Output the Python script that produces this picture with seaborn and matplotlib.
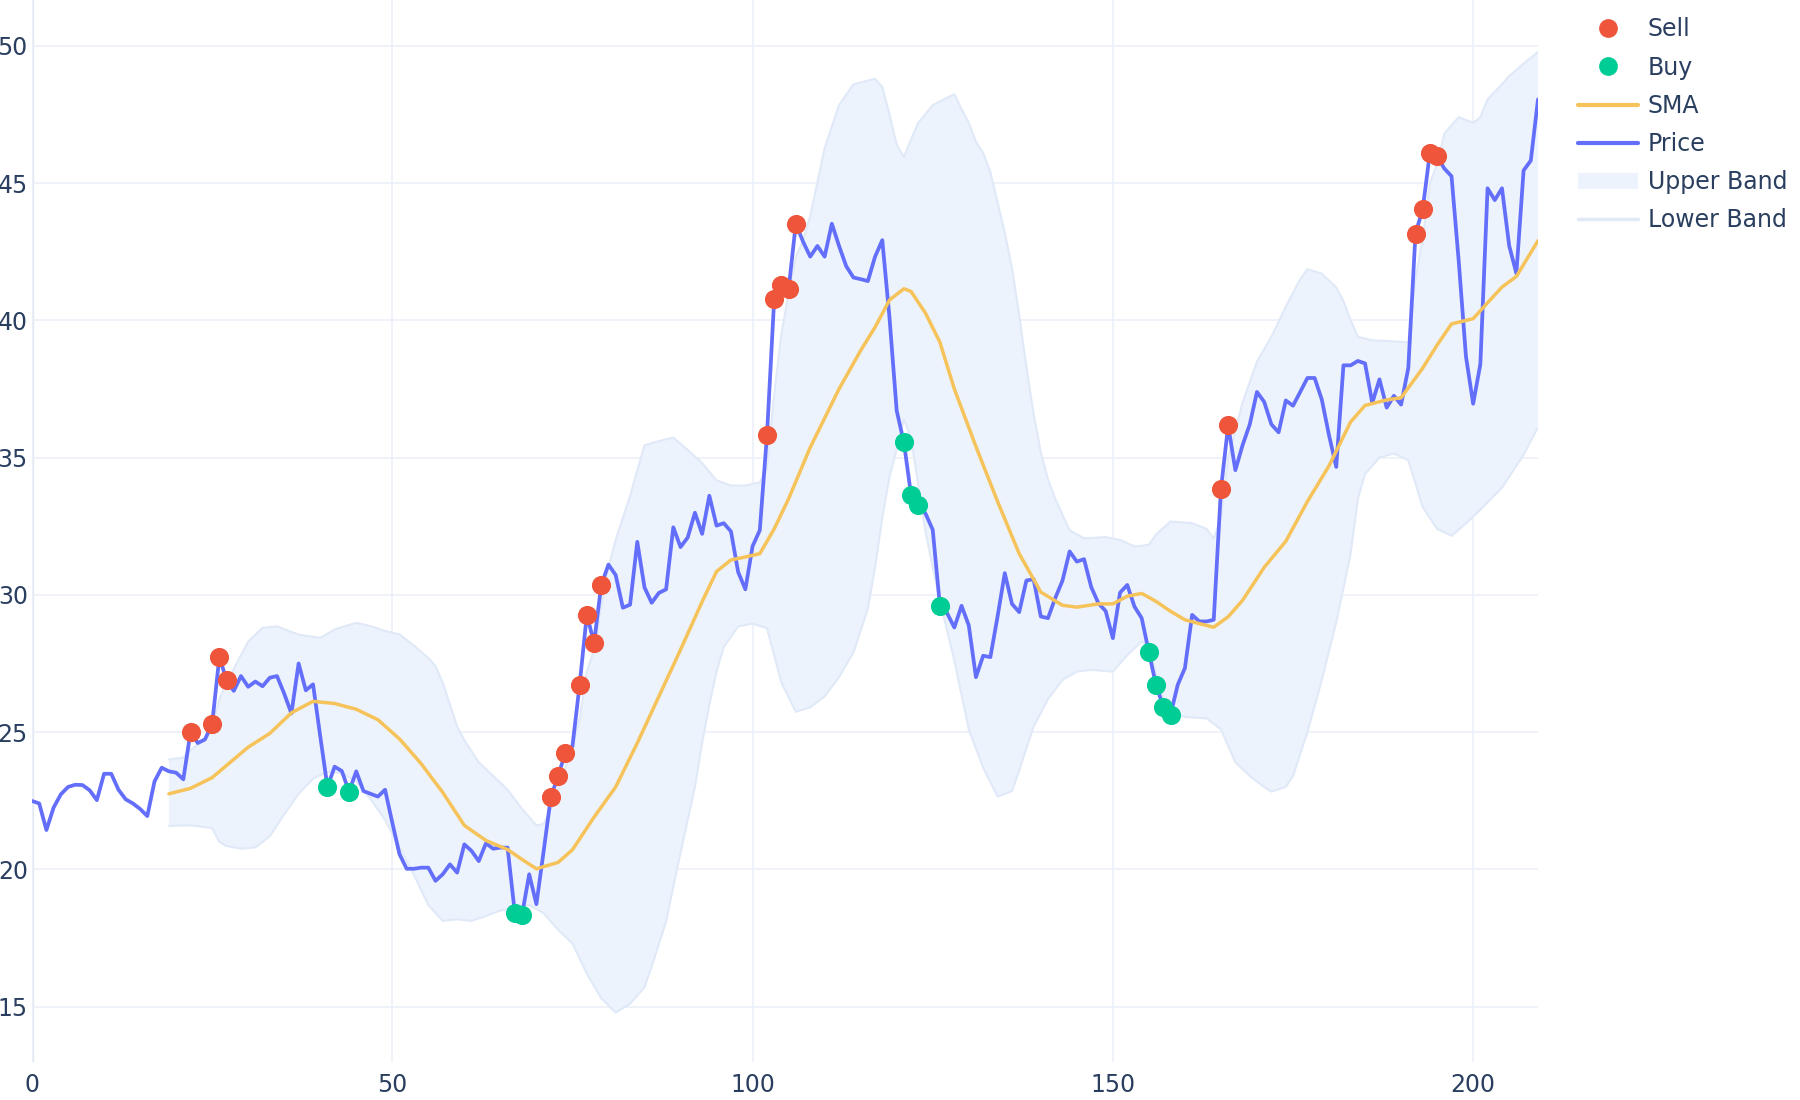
import numpy as np
import pandas as pd
import matplotlib
matplotlib.use("Agg")
import matplotlib.pyplot as plt
from matplotlib.lines import Line2D
from matplotlib.patches import Patch
import seaborn as sns

# price, one value per index 0..209
price = [
    22.49, 22.40, 21.43, 22.25, 22.73, 23.00, 23.08, 23.07, 22.88, 22.52,
    23.48, 23.48, 22.90, 22.55, 22.40, 22.20, 21.94, 23.20, 23.70, 23.57,
    23.52, 23.28, 25.00, 24.60, 24.73, 25.30, 27.73, 26.90, 26.50, 27.04,
    26.65, 26.84, 26.67, 26.98, 27.04, 26.40, 25.68, 27.50, 26.52, 26.74,
    24.85, 23.00, 23.74, 23.58, 22.83, 23.57, 22.85, 22.75, 22.65, 22.90,
    21.70, 20.55, 20.02, 20.02, 20.06, 20.06, 19.58, 19.82, 20.18, 19.88,
    20.91, 20.67, 20.30, 20.95, 20.75, 20.79, 20.79, 18.42, 18.33, 19.82,
    18.73, 20.65, 22.62, 23.40, 24.22, 24.48, 26.73, 29.28, 28.24, 30.36,
    31.10, 30.72, 29.53, 29.64, 31.93, 30.27, 29.71, 30.07, 30.20, 32.46,
    31.74, 32.09, 32.99, 32.22, 33.61, 32.52, 32.61, 32.31, 30.83, 30.20,
    31.77, 32.35, 35.82, 40.77, 41.29, 41.13, 43.52, 42.87, 42.32, 42.71,
    42.32, 43.52, 42.71, 41.97, 41.56, 41.50, 41.43, 42.32, 42.92, 40.10,
    36.71, 35.55, 33.63, 33.27, 32.96, 32.37, 29.60, 29.33, 28.81, 29.60,
    28.89, 27.00, 27.78, 27.73, 29.21, 30.79, 29.67, 29.37, 30.52, 30.57,
    29.21, 29.15, 29.88, 30.51, 31.58, 31.21, 31.30, 30.28, 29.69, 29.41,
    28.42, 30.08, 30.36, 29.57, 29.15, 27.91, 26.70, 25.93, 25.63, 26.72,
    27.33, 29.27, 29.03, 29.03, 29.09, 33.85, 36.17, 34.54, 35.45, 36.21,
    37.39, 37.03, 36.21, 35.92, 37.08, 36.89, 37.39, 37.90, 37.90, 37.11,
    35.81, 34.66, 38.36, 38.36, 38.52, 38.43, 36.99, 37.85, 36.82, 37.25,
    36.93, 38.26, 43.16, 44.05, 46.11, 45.97, 45.53, 45.25, 42.15, 38.69,
    36.96, 38.40, 44.81, 44.38, 44.81, 42.72, 41.71, 45.46, 45.82, 48.05,
]

sma_x = [19, 22, 25, 30, 33, 36, 39, 42, 45, 48, 51, 54, 57, 60, 63, 66, 68, 70,
         73, 75, 78, 81, 84, 87, 90, 93, 95, 97, 99, 101, 103, 105, 108, 112, 115,
         117, 119, 121, 122, 124, 126, 128, 131, 134, 137, 140, 143, 145, 148, 150,
         152, 154, 156, 158, 160, 162, 164, 166, 168, 171, 174, 177, 180, 183, 185,
         188, 190, 193, 195, 197, 200, 202, 204, 206, 209]
sma_y = [22.75, 22.95, 23.34, 24.45, 24.95, 25.70, 26.12, 26.04, 25.83, 25.45,
         24.75, 23.85, 22.80, 21.60, 21.05, 20.72, 20.36, 20.02, 20.25, 20.71,
         21.90, 23.00, 24.60, 26.30, 28.00, 29.75, 30.85, 31.27, 31.38, 31.50,
         32.40, 33.50, 35.37, 37.50, 38.90, 39.75, 40.74, 41.15, 41.05, 40.26,
         39.20, 37.50, 35.40, 33.40, 31.50, 30.10, 29.62, 29.55, 29.67, 29.67,
         29.95, 30.05, 29.76, 29.40, 29.09, 28.95, 28.82, 29.20, 29.80, 31.00,
         31.95, 33.40, 34.70, 36.30, 36.90, 37.10, 37.18, 38.26, 39.10, 39.87,
         40.06, 40.64, 41.21, 41.60, 42.90]

upper_x = [19, 21, 22, 24, 25, 26, 27, 28, 30, 32, 34, 37, 40, 42, 45, 47, 49, 51,
           53, 55, 56, 57, 58, 59, 60, 62, 64, 66, 68, 70, 71, 72, 73, 74, 75, 76,
           77, 78, 79, 80, 81, 83, 85, 87, 89, 91, 93, 95, 97, 99, 101, 102, 103,
           104, 105, 106, 107, 108, 110, 112, 114, 117, 118, 119, 120, 121, 122,
           123, 125, 128, 129, 130, 131, 132, 133, 135, 136, 137, 138, 139, 140,
           141, 142, 144, 146, 149, 151, 153, 155, 156, 158, 161, 163, 164, 165,
           166, 168, 170, 172, 174, 176, 177, 179, 181, 182, 183, 184, 186, 188,
           191, 192, 193, 194, 195, 196, 198, 200, 201, 202, 204, 205, 207, 209]
upper_y = [24.00, 24.07, 24.35, 24.75, 25.20, 26.20, 26.80, 27.30, 28.30, 28.80,
           28.85, 28.55, 28.43, 28.74, 28.98, 28.86, 28.68, 28.56, 28.15, 27.70,
           27.40, 26.80, 26.00, 25.20, 24.70, 23.90, 23.40, 22.90, 22.20, 21.60,
           21.65, 22.20, 22.90, 23.70, 24.40, 25.50, 27.20, 28.00, 29.60, 31.00,
           32.00, 33.60, 35.45, 35.60, 35.73, 35.28, 34.80, 34.17, 33.98, 33.98,
           34.10, 34.60, 37.30, 39.50, 41.00, 42.30, 42.90, 43.80, 46.27, 47.84,
           48.60, 48.80, 48.50, 47.50, 46.40, 45.95, 46.60, 47.20, 47.84, 48.24,
           47.70, 47.20, 46.50, 46.10, 45.40, 43.20, 41.90, 40.20, 38.30, 36.60,
           35.20, 34.20, 33.50, 32.35, 32.06, 32.10, 32.00, 31.76, 31.82, 32.20,
           32.67, 32.61, 32.40, 32.06, 32.80, 35.00, 37.00, 38.50, 39.40, 40.50,
           41.50, 41.86, 41.70, 41.20, 40.70, 40.00, 39.40, 39.27, 39.25, 39.20,
           41.50, 43.00, 45.00, 45.70, 46.80, 47.40, 47.20, 47.40, 48.05, 48.60,
           48.90, 49.35, 49.78]

lower_x = [19, 22, 25, 26, 27, 29, 31, 33, 35, 37, 39, 41, 43, 45, 47, 49, 51, 53,
           55, 57, 59, 61, 63, 65, 67, 69, 71, 73, 75, 77, 79, 81, 83, 85, 86, 88,
           89, 90, 91, 92, 93, 94, 95, 96, 98, 100, 102, 103, 104, 106, 108, 110,
           112, 114, 116, 117, 118, 119, 120, 121, 122, 123, 124, 125, 126, 128,
           130, 132, 134, 136, 137, 139, 141, 143, 145, 147, 150, 152, 154, 155,
           156, 157, 158, 160, 163, 165, 167, 169, 171, 172, 174, 175, 177, 179,
           181, 183, 184, 185, 187, 189, 191, 193, 195, 197, 199, 201, 204, 207, 209]
lower_y = [21.58, 21.60, 21.50, 21.00, 20.85, 20.75, 20.80, 21.20, 22.00, 22.75,
           23.30, 23.55, 23.50, 23.20, 22.55, 21.80, 20.80, 19.80, 18.70, 18.12,
           18.18, 18.12, 18.30, 18.50, 18.60, 18.70, 18.40, 17.80, 17.30, 16.20,
           15.30, 14.78, 15.10, 15.70, 16.46, 18.10, 19.37, 20.60, 21.80, 23.00,
           24.60, 26.00, 27.20, 28.10, 28.85, 28.95, 28.78, 27.80, 26.80, 25.74,
           25.90, 26.30, 27.00, 27.90, 29.50, 31.00, 32.80, 34.30, 35.30, 36.40,
           35.70, 34.00, 32.30, 31.00, 29.80, 27.60, 25.10, 23.70, 22.65, 22.85,
           23.60, 25.20, 26.20, 26.90, 27.20, 27.27, 27.20, 27.80, 28.30, 28.10,
           27.10, 26.20, 25.70, 25.55, 25.50, 25.10, 23.90, 23.40, 23.00, 22.83,
           23.00, 23.40, 25.00, 26.90, 29.00, 31.50, 33.50, 34.40, 35.00, 35.15,
           34.90, 33.20, 32.40, 32.15, 32.60, 33.10, 33.90, 35.10, 36.10]

sell_idx = [22, 25, 26, 27, 72, 73, 74, 76, 77, 78, 79, 102, 103, 104, 105, 106,
            165, 166, 192, 193, 194, 195]
buy_idx = [41, 44, 67, 68, 121, 122, 123, 126, 155, 156, 157, 158]

x_ticks = [0, 50, 100, 150, 200]
y_ticks = [15, 20, 25, 30, 35, 40, 45, 50]

PRICE_COLOR = "#636EFA"
SMA_COLOR = "#F6C35A"
SELL_COLOR = "#EF553B"
BUY_COLOR = "#00CC96"
BAND_FILL = "#EDF3FC"
BAND_LINE = "#E0E9F8"
GRID_COLOR = "#EBF0F8"
TEXT_COLOR = "#2A3F5F"
FONT_SIZE = 17

sns.set_theme(style="white")
plt.rcParams["font.family"] = ["DejaVu Sans"]

price_df = pd.DataFrame({"idx": np.arange(len(price)), "price": price})
sma_df = pd.DataFrame({"idx": sma_x, "sma": sma_y})
upper_df = pd.DataFrame({"idx": upper_x, "band": upper_y})
lower_df = pd.DataFrame({"idx": lower_x, "band": lower_y})
sell_df = price_df.iloc[sell_idx]
buy_df = price_df.iloc[buy_idx]

fig = plt.figure(figsize=(18, 11), dpi=100)
ax = fig.add_axes([32 / 1800, 38 / 1100, (1538 - 32) / 1800, 1 - 38 / 1100])

# band area between upper and lower
poly_x = np.r_[upper_df["idx"].to_numpy(), lower_df["idx"].to_numpy()[::-1]]
poly_y = np.r_[upper_df["band"].to_numpy(), lower_df["band"].to_numpy()[::-1]]
ax.fill(poly_x, poly_y, color=BAND_FILL, lw=0, zorder=1)

sns.lineplot(data=upper_df, x="idx", y="band", ax=ax, color=BAND_LINE,
             linewidth=1.5, sort=False, legend=False, zorder=2)
sns.lineplot(data=lower_df, x="idx", y="band", ax=ax, color=BAND_LINE,
             linewidth=1.5, sort=False, legend=False, zorder=2)
sns.lineplot(data=price_df, x="idx", y="price", ax=ax, color=PRICE_COLOR,
             linewidth=2.7, sort=False, legend=False, zorder=3)
sns.lineplot(data=sma_df, x="idx", y="sma", ax=ax, color=SMA_COLOR,
             linewidth=2.5, sort=False, legend=False, zorder=4)
sns.scatterplot(data=buy_df, x="idx", y="price", ax=ax, color=BUY_COLOR,
                s=190, linewidth=0, legend=False, zorder=5)
sns.scatterplot(data=sell_df, x="idx", y="price", ax=ax, color=SELL_COLOR,
                s=190, linewidth=0, legend=False, zorder=6)

ax.set_xlim(0, 209)
ax.set_ylim(12.98, 51.67)
ax.set_xticks(x_ticks)
ax.set_yticks(y_ticks)
ax.set_xlabel("")
ax.set_ylabel("")
ax.grid(True, color=GRID_COLOR, linewidth=1.1, zorder=0)
ax.set_axisbelow(True)
ax.axvline(0, color="#E4EAF4", linewidth=2.5, zorder=0.5)
for side in ["top", "right", "bottom", "left"]:
    ax.spines[side].set_visible(False)
ax.tick_params(axis="y", length=0, pad=3, labelsize=FONT_SIZE, labelcolor=TEXT_COLOR)
ax.tick_params(axis="x", length=0, pad=8, labelsize=FONT_SIZE, labelcolor=TEXT_COLOR)

handles = [
    Line2D([0], [0], marker="o", ls="", markersize=13.5, markeredgewidth=0, color=SELL_COLOR),
    Line2D([0], [0], marker="o", ls="", markersize=13.5, markeredgewidth=0, color=BUY_COLOR),
    Line2D([0], [0], color=SMA_COLOR, lw=3),
    Line2D([0], [0], color=PRICE_COLOR, lw=3),
    Patch(facecolor=BAND_FILL, edgecolor="none"),
    Line2D([0], [0], color=BAND_LINE, lw=2.5),
]
labels = ["Sell", "Buy", "SMA", "Price", "Upper Band", "Lower Band"]
leg = fig.legend(handles, labels, loc="upper left", bbox_to_anchor=(1578 / 1800, 1 - 17.5 / 1100),
                 frameon=False, fontsize=FONT_SIZE, handlelength=2.54, handletextpad=0.42,
                 labelspacing=0.60, borderpad=0, borderaxespad=0)
for t in leg.get_texts():
    t.set_color(TEXT_COLOR)

fig.savefig("out.png", dpi=100)
